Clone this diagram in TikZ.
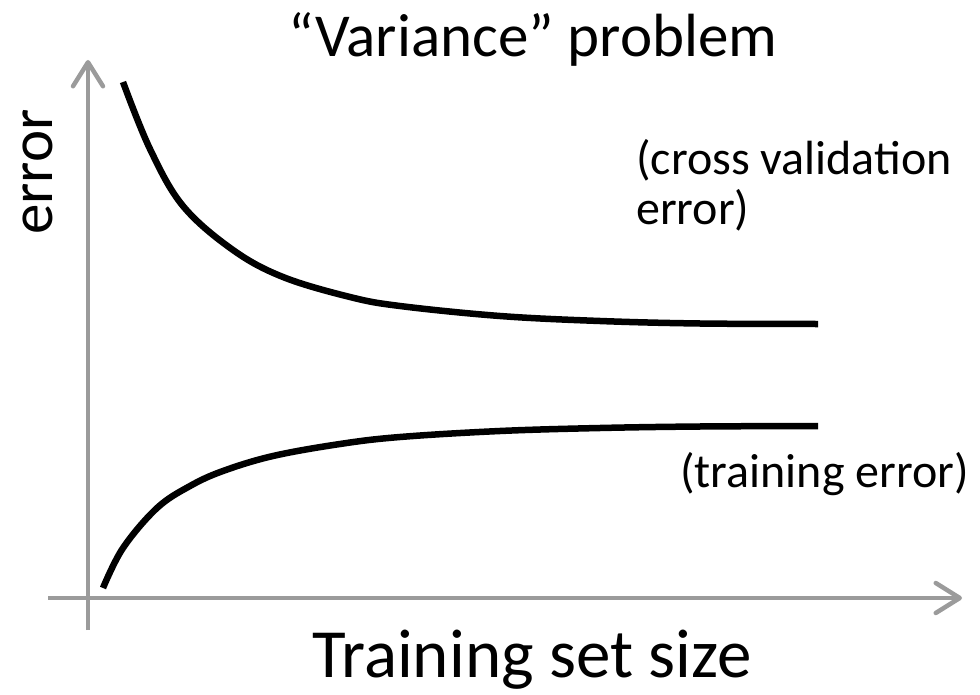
\documentclass[tikz,border=0pt]{standalone}
\usepackage{fontspec}
\setmainfont{Carlito}
\usetikzlibrary{arrows.meta}
\definecolor{axisgray}{RGB}{155,155,155}
\begin{document}
\begin{tikzpicture}[x=1pt,y=-1pt,
    axis/.style={draw=axisgray,line width=4.5pt,
      -{Straight Barb[length=24pt,width=30pt,round]}},
    curve/.style={line width=6.5pt,line cap=butt,line join=round},
    lbl/.style={font=\fontsize{48}{50}\selectfont,align=left,inner sep=0pt}]
  \useasboundingbox (0,0) rectangle (980,695);
  % axes
  \coordinate (ybot) at (88,630);
  \coordinate (ytop) at (88,60);
  \coordinate (xleft) at (48,598);
  \coordinate (xright) at (962,598);
  \draw[axis] (ybot) -- (ytop);
  \draw[axis] (xleft) -- (xright);
  % cross validation error
  \draw[curve] plot[smooth,tension=0.6] coordinates {
    (123,82) (150,149) (183,206) (233,250) (283,277) (350,297)
    (400,306) (500,316) (600,321) (700,323.5) (818,324)};
  % training error
  \draw[curve] plot[smooth,tension=0.6] coordinates {
    (103,588) (123,548) (157,508) (190,486) (223,471) (273,456)
    (340,444) (400,437) (500,431) (600,428) (700,426.5) (818,426)};
  % labels
  \node[font=\fontsize{61}{70}\selectfont,anchor=base] (title) at (533,57) {“Variance” problem};
  \node[font=\fontsize{69}{78}\selectfont,anchor=base,inner sep=0pt] (xlab) at (532,677) {Training set size};
  \node[font=\fontsize{61}{70}\selectfont,anchor=base,rotate=90] (ylab) at (52,172) {error};
  \node[lbl,anchor=base west] (cv) at (636,225) {(cross validation\\error)};
  \node[lbl,anchor=base west] (tr) at (680,487) {(training error)};
\end{tikzpicture}
\end{document}
